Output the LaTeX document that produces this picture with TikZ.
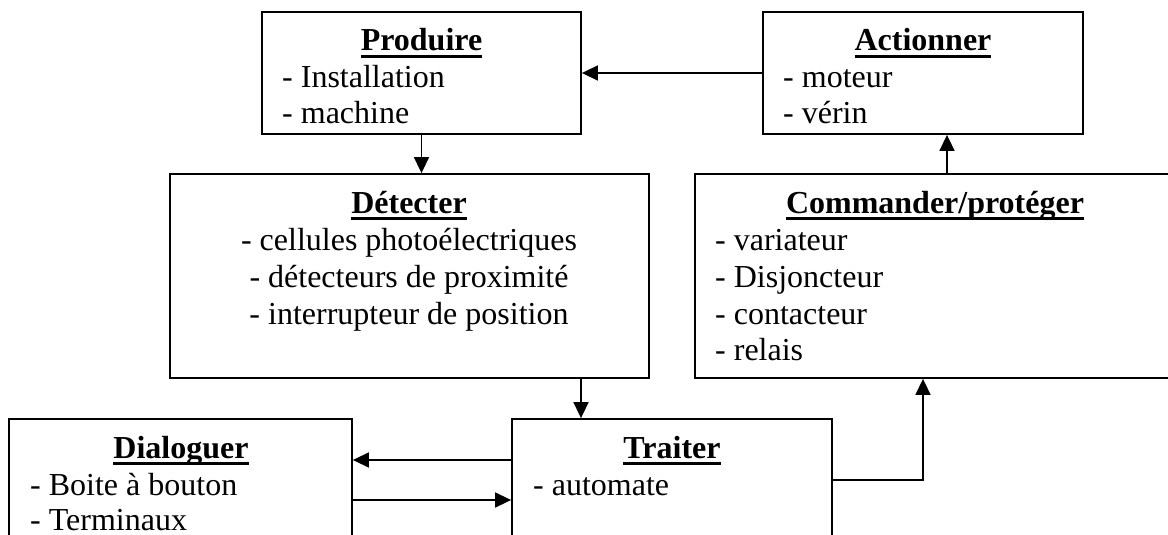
\documentclass[tikz,border=0pt]{standalone}
\usepackage{fontspec}
\setmainfont{Liberation Serif}
\usetikzlibrary{arrows.meta,calc}
\newcommand{\myul}[1]{\setbox0=\hbox{\bfseries #1}\rlap{\raisebox{-7pt}{\rule{\wd0}{2.6pt}}}\box0}
\begin{document}
\begin{tikzpicture}[x=1pt,y=-1pt,
  boxnode/.style={draw,line width=1.8pt,rectangle,inner sep=0pt},
  txt/.style={font=\fontsize{32}{37}\selectfont,inner sep=0pt},
  ttl/.style={txt,anchor=base},
  itm/.style={txt,anchor=base west},
  ctr/.style={txt,anchor=base},
  arr/.style={line width=1.6pt,-{Triangle[length=16pt,width=15pt]}}]
\useasboundingbox (0,0) rectangle (1168,535);
\clip (0,0) rectangle (1168,535);
% boxes
\node[boxnode,minimum width=319pt,minimum height=122pt] (prod) at (421.5,73) {};
\node[boxnode,minimum width=320pt,minimum height=122pt] (act) at (923,73) {};
\node[boxnode,minimum width=479pt,minimum height=204pt] (det) at (409.5,276) {};
\node[boxnode,minimum width=480pt,minimum height=204pt] (cmd) at (935,276) {};
\node[boxnode,minimum width=343pt,minimum height=181pt] (dia) at (180.5,509.5) {};
\node[boxnode,minimum width=320pt,minimum height=181pt] (tra) at (672,509.5) {};
% Produire
\node[ttl] (prodT) at (421.5,51) {\myul{Produire}};
\node[itm] (prod1) at (282,87.5) {- Installation};
\node[itm] (prod2) at (282,124) {- machine};
% Actionner
\node[ttl] (actT) at (923,51) {\myul{Actionner}};
\node[itm] (act1) at (783,87.5) {- moteur};
\node[itm] (act2) at (783,124) {- vérin};
% Detecter
\node[ttl] (detT) at (409,213) {\myul{Détecter}};
\node[ctr] (det1) at (409,250.5) {- cellules photoélectriques};
\node[ctr] (det2) at (409,287) {- détecteurs de proximité};
\node[ctr] (det3) at (409,324) {- interrupteur de position};
% Commander
\node[ttl] (cmdT) at (935,213) {\myul{Commander/protéger}};
\node[itm] (cmd1) at (715,250.5) {- variateur};
\node[itm] (cmd2) at (715,287) {- Disjoncteur};
\node[itm] (cmd3) at (715,324) {- contacteur};
\node[itm] (cmd4) at (715,360.5) {- relais};
% Dialoguer
\node[ttl] (diaT) at (181,458) {\myul{Dialoguer}};
\node[itm] (dia1) at (30,495) {- Boite à bouton};
\node[itm] (dia2) at (30,530) {- Terminaux};
% Traiter
\node[ttl] (traT) at (672,458) {\myul{Traiter}};
\node[itm] (tra1) at (533,495) {- automate};
% helper coordinates
\coordinate (ax) at (947,150);
\coordinate (dx) at (581,400);
\coordinate (c1) at (923,480);
\coordinate (y1) at (430,460);
\coordinate (y2) at (430,500);
% connectors
\draw[arr] (act.west) -- (prod.east);
\draw[arr] (prod.south) -- (prod.south |- det.north);
\draw[arr] (cmd.north -| ax) -- (act.south -| ax);
\draw[arr] (det.south -| dx) -- (tra.north -| dx);
\draw[arr] (tra.east |- c1) -| (cmd.south -| c1);
\draw[arr] (tra.west |- y1) -- (dia.east |- y1);
\draw[arr] (dia.east |- y2) -- (tra.west |- y2);
\end{tikzpicture}
\end{document}
